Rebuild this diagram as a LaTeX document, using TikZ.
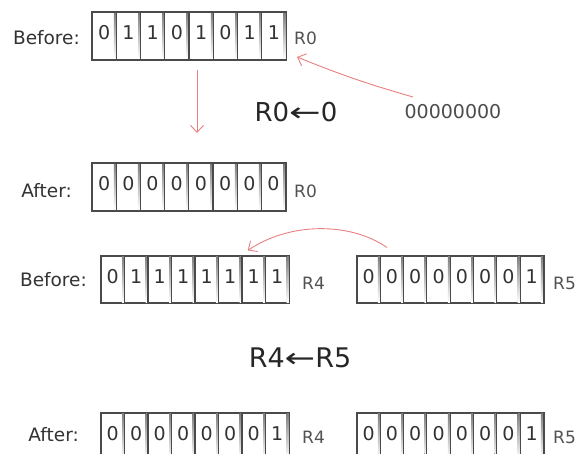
\documentclass[tikz,border=0pt]{standalone}
\usepackage{fontspec}
\usepackage{graphicx}
\setmainfont{DejaVu Sans}
\usetikzlibrary{arrows.meta,calc}

\definecolor{ink}{HTML}{333333}
\definecolor{frame}{HTML}{4A4A4A}
\definecolor{shade}{HTML}{E2E2E2}
\definecolor{redline}{HTML}{E98080}

\tikzset{
  bitcell/.style={draw=frame, line width=1.1pt, fill=white, inner sep=0pt,
    minimum height=47pt, text height=0.73em, text depth=0pt,
    font=\fontsize{19}{22}\selectfont, text=ink},
  regframe/.style={draw=frame, line width=1.8pt},
  rowlabel/.style={anchor=base east, inner sep=0pt,
    font=\fontsize{18.5}{22}\selectfont, text=ink},
  regname/.style={anchor=base west, inner sep=0pt,
    font=\fontsize{17}{20}\selectfont, text=ink!85},
  opnote/.style={anchor=base, inner sep=0pt,
    font=\fontsize{26}{30}\selectfont, text=black!85},
  redarrow/.style={draw=redline, line width=0.9pt,
    -{Straight Barb[length=7pt,width=13pt,line width=0.9pt]}},
}

% one 8-bit register: name, left x, centre y, cell width, bits
\newcommand\bitreg[5]{%
  \foreach \b [count=\i] in {#5} {
    \node[bitcell, minimum width=#4pt] (#1-\i) at ({#2+(\i-0.5)*#4}, #3) {\b};
    \fill[shade] ($(#1-\i.north east)+(-3,1)$) rectangle ($(#1-\i.south east)+(-0.7,-1)$);
  }
  \draw[regframe] (#1-1.north west) rectangle (#1-8.south east);
}

\begin{document}
\begin{tikzpicture}[x=1pt, y=-1pt]
  \fill[white] (0,0) rectangle (579,454);
  \clip (0,0) rectangle (579,454);

  % ---- R0 <- 0 ----
  \node[rowlabel] (before1) at (80,45) {Before:};
  \bitreg{rzb}{92}{36}{24.25}{0,1,1,0,1,0,1,1}
  \node[regname] (rzbname) at (294,45) {R0};

  \coordinate (downtop) at (197,70);
  \coordinate (downend) at (197,133);
  \draw[redarrow] (downtop) -- (downend);

  \node[opnote] (op1) at (296,122) {R0\scalebox{1.45}[1]{←}0};

  \node[anchor=center, inner sep=0pt, font=\fontsize{19}{22}\selectfont,
        text=black!70] (zeros) at (453,112) {00000000};
  \coordinate (zerosrc) at (413,97);
  \coordinate (rzbin) at (297,57);
  \draw[redarrow] (zerosrc) to[bend left=3] (rzbin);

  \node[rowlabel] (after1) at (72,198) {After:};
  \bitreg{rza}{92}{187}{24.2}{0,0,0,0,0,0,0,0}
  \node[regname] (rzaname) at (294,198) {R0};

  % ---- R4 <- R5 ----
  \node[rowlabel] (before2) at (87,287) {Before:};
  \bitreg{rfb}{101}{279.5}{23.5}{0,1,1,1,1,1,1,1}
  \node[regname] (rfbname) at (302,290) {R4};
  \bitreg{rvb}{357}{279.5}{23.3}{0,0,0,0,0,0,0,1}
  \node[regname] (rvbname) at (553,290) {R5};

  \draw[redarrow] ($(rvb-2.north)+(-5,-8)$)
    .. controls (350,222) and (290,222) .. ($(rfb-7.north)+(-6,-5)$);

  \node[opnote, font=\fontsize{27}{31}\selectfont] (op2) at (300,368)
    {R4\scalebox{1.35}[1]{←}R5};

  \node[rowlabel] (after2) at (79,442) {After:};
  \bitreg{rfa}{101}{436.5}{23.5}{0,0,0,0,0,0,0,1}
  \node[regname] (rfaname) at (302,444) {R4};
  \bitreg{rva}{357}{436.5}{23.3}{0,0,0,0,0,0,0,1}
  \node[regname] (rvaname) at (553,444) {R5};
\end{tikzpicture}
\end{document}
